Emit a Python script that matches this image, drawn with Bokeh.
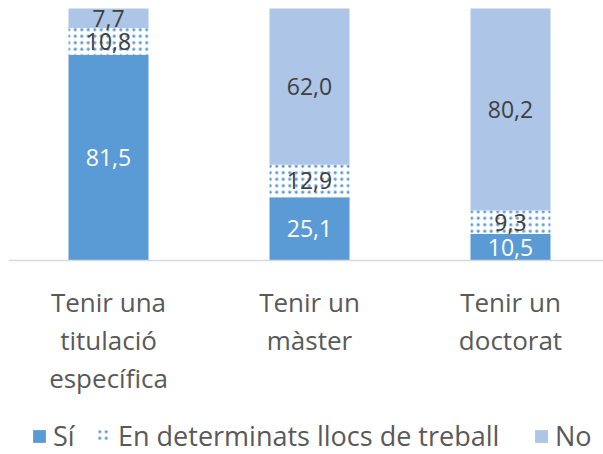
from bokeh.plotting import figure
from bokeh.models import ColumnDataSource, Span, Legend, LegendItem
from bokeh.core.properties import value
from bokeh.embed import file_html
from bokeh.resources import INLINE

categories = ["Tenir una\ntitulació\nespecífica", "Tenir un\nmàster", "Tenir un\ndoctorat"]
si = [81.5, 25.1, 10.5]
det = [10.8, 12.9, 9.3]
no = [7.7, 62.0, 80.2]
series_names = ["Sí", "En determinats llocs de treball", "No"]

FONT = "Open Sans"
C_SI = "#5B9BD5"
C_NO = "#ADC5E7"

xs = list(range(len(categories)))
b1 = [a + b for a, b in zip(si, det)]
tot = [a + b for a, b in zip(b1, no)]

def fmt(v):
    return f"{v:.1f}".replace(".", ",")

src = ColumnDataSource(dict(
    x=xs, si=si, det=det, no=no, b1=b1, tot=tot,
    si_lab=[fmt(v) for v in si],
    det_lab=[fmt(v) for v in det],
    no_lab=[fmt(v) for v in no],
    si_mid=[v / 2 for v in si],
    det_mid=[a + b / 2 for a, b in zip(si, det)],
    no_mid=[a + b / 2 for a, b in zip(b1, no)],
    cat=categories,
    cat_y=[-9.5] * len(categories),
))

p = figure(width=603, height=454, output_backend="svg", toolbar_location=None,
           x_range=(-0.4975, 2.4627), y_range=(-76.98, 103.17),
           min_border=0, min_border_left=8, outline_line_color=None)
p.axis.visible = False
p.grid.visible = False
p.background_fill_color = "white"
p.border_fill_color = "white"

w = 0.398
r_si = p.vbar(x="x", bottom=0, top="si", width=w, source=src, fill_color=C_SI, line_color=None)
r_det = p.vbar(x="x", bottom="si", top="b1", width=w, source=src, fill_color="white", line_color=None,
               hatch_pattern="dot", hatch_color=C_SI, hatch_scale=6.5, hatch_weight=2)
r_no = p.vbar(x="x", bottom="b1", top="tot", width=w, source=src, fill_color=C_NO, line_color=None)

p.add_layout(Span(location=0, dimension="width", line_color="#D9D9D9", line_width=1.5))

common = dict(text_font=value(FONT), text_font_size="23px", text_align="center", text_baseline="middle")
p.text(x="x", y="si_mid", text="si_lab", source=src, text_color="white", **common)
p.text(x="x", y="det_mid", text="det_lab", source=src, text_color="#404040", **common)
p.text(x="x", y="no_mid", text="no_lab", source=src, text_color="#404040", **common)

p.text(x="x", y="cat_y", text="cat", source=src, text_color="#595959", text_font=value(FONT),
       text_font_size="26px", text_align="center", text_baseline="top", text_line_height=1.05)

legend_style = dict(orientation="horizontal", border_line_color=None,
                    background_fill_alpha=0, label_text_font=FONT, label_text_font_size="27px",
                    label_text_color="#595959", label_text_line_height=0.8,
                    glyph_width=16, glyph_height=16,
                    label_standoff=6, padding=0, margin=0)
for r, name, lx in zip([r_si, r_det, r_no], series_names, [23, 88, 525]):
    lg = Legend(items=[LegendItem(label=name, renderers=[r])], location=(lx, 0), **legend_style)
    p.add_layout(lg, "center")

open("out.html", "w").write(file_html(p, INLINE))
